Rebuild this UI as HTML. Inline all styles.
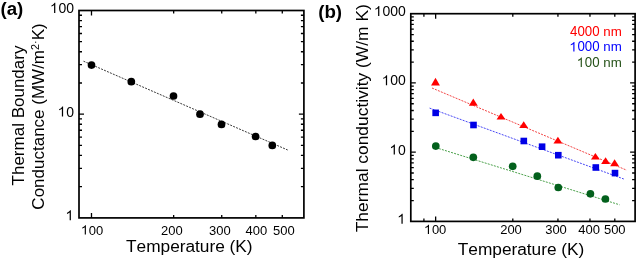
<!DOCTYPE html><html><head><meta charset="utf-8"><style>html,body{margin:0;padding:0;background:#fff;overflow:hidden}svg{display:block;will-change:transform}text{font-family:"Liberation Sans",sans-serif;font-kerning:none;font-variant-ligatures:none}</style></head><body>
<svg width="637" height="260" viewBox="0 0 637 260">
<path d="M91.49 217.90V212.90M91.49 10.50V15.50M173.66 217.90V214.90M173.66 10.50V13.50M221.73 217.90V214.90M221.73 10.50V13.50M255.83 217.90V214.90M255.83 10.50V13.50M282.29 217.90V214.90M282.29 10.50V13.50M79.00 186.68H82.00M303.90 186.68H300.90M79.00 168.42H82.00M303.90 168.42H300.90M79.00 155.47H82.00M303.90 155.47H300.90M79.00 145.42H82.00M303.90 145.42H300.90M79.00 137.21H82.00M303.90 137.21H300.90M79.00 130.26H82.00M303.90 130.26H300.90M79.00 124.25H82.00M303.90 124.25H300.90M79.00 118.95H82.00M303.90 118.95H300.90M79.00 114.20H84.00M303.90 114.20H298.90M79.00 82.98H82.00M303.90 82.98H300.90M79.00 64.72H82.00M303.90 64.72H300.90M79.00 51.77H82.00M303.90 51.77H300.90M79.00 41.72H82.00M303.90 41.72H300.90M79.00 33.51H82.00M303.90 33.51H300.90M79.00 26.56H82.00M303.90 26.56H300.90M79.00 20.55H82.00M303.90 20.55H300.90M79.00 15.25H82.00M303.90 15.25H300.90" stroke="#000" stroke-width="1.3" fill="none"/>
<rect x="79.0" y="10.5" width="224.90" height="207.40" stroke="#000" stroke-width="1.7" fill="none"/>
<line x1="83.5" y1="61.2" x2="287.7" y2="150" stroke="#3a3a3a" stroke-width="1" stroke-dasharray="2 1.2"/>
<circle cx="91.5" cy="65.05" r="3.85" fill="#000"/>
<circle cx="131.3" cy="81.7" r="3.85" fill="#000"/>
<circle cx="173.5" cy="96" r="3.85" fill="#000"/>
<circle cx="200" cy="114.2" r="3.85" fill="#000"/>
<circle cx="221.5" cy="124.4" r="3.85" fill="#000"/>
<circle cx="255.6" cy="136.5" r="3.85" fill="#000"/>
<circle cx="272.3" cy="145.4" r="3.85" fill="#000"/>
<path d="M683 0L503 0L503 1147Q433 1083 318 1020Q203 958 113 925L113 1100Q275 1172 395 1272Q515 1372 565 1472L683 1472Z" transform="translate(81.56 234.50) scale(0.00635 -0.00635)" fill="#000"/><text transform="translate(88.79 234.50) scale(1 1.035)" font-size="13" fill="#000">0</text><text transform="translate(96.01 234.50) scale(1 1.035)" font-size="13" fill="#000">0</text>
<text transform="translate(160.96 234.50) scale(1 1.035)" font-size="13" fill="#000">2</text><text transform="translate(168.19 234.50) scale(1 1.035)" font-size="13" fill="#000">0</text><text transform="translate(175.41 234.50) scale(1 1.035)" font-size="13" fill="#000">0</text>
<text transform="translate(208.96 234.50) scale(1 1.035)" font-size="13" fill="#000">3</text><text transform="translate(216.19 234.50) scale(1 1.035)" font-size="13" fill="#000">0</text><text transform="translate(223.41 234.50) scale(1 1.035)" font-size="13" fill="#000">0</text>
<text transform="translate(245.46 234.50) scale(1 1.035)" font-size="13" fill="#000">4</text><text transform="translate(252.69 234.50) scale(1 1.035)" font-size="13" fill="#000">0</text><text transform="translate(259.91 234.50) scale(1 1.035)" font-size="13" fill="#000">0</text>
<text transform="translate(272.96 234.50) scale(1 1.035)" font-size="13" fill="#000">5</text><text transform="translate(280.19 234.50) scale(1 1.035)" font-size="13" fill="#000">0</text><text transform="translate(287.41 234.50) scale(1 1.035)" font-size="13" fill="#000">0</text>
<path d="M683 0L503 0L503 1147Q433 1083 318 1020Q203 958 113 925L113 1100Q275 1172 395 1272Q515 1372 565 1472L683 1472Z" transform="translate(50.64 12.90) scale(0.00684 -0.00684)" fill="#000"/><text transform="translate(58.43 12.90) scale(1 1.035)" font-size="14" fill="#000">0</text><text transform="translate(66.21 12.90) scale(1 1.035)" font-size="14" fill="#000">0</text>
<path d="M683 0L503 0L503 1147Q433 1083 318 1020Q203 958 113 925L113 1100Q275 1172 395 1272Q515 1372 565 1472L683 1472Z" transform="translate(58.43 116.60) scale(0.00684 -0.00684)" fill="#000"/><text transform="translate(66.21 116.60) scale(1 1.035)" font-size="14" fill="#000">0</text>
<path d="M683 0L503 0L503 1147Q433 1083 318 1020Q203 958 113 925L113 1100Q275 1172 395 1272Q515 1372 565 1472L683 1472Z" transform="translate(66.21 220.30) scale(0.00684 -0.00684)" fill="#000"/>
<text x="189.3" y="252" font-size="17.3" text-anchor="middle" textLength="126.4" lengthAdjust="spacing">Temperature (K)</text>
<text transform="translate(23.7 115.5) rotate(-90)" font-size="17" text-anchor="middle">Thermal Boundary</text>
<text transform="translate(43.6 116.5) rotate(-90)" font-size="17" text-anchor="middle">Conductance (MW/m<tspan font-size="10.8" dy="-4.3">2</tspan><tspan font-size="10.8">·</tspan><tspan dy="4.3">K)</tspan></text>
<text x="0.5" y="14.8" font-size="18.7" font-weight="bold">(a)</text>
<path d="M423.91 221.40V218.40M423.91 13.70V16.70M435.64 221.40V216.40M435.64 13.70V18.70M512.80 221.40V218.40M512.80 13.70V16.70M557.94 221.40V218.40M557.94 13.70V16.70M589.96 221.40V218.40M589.96 13.70V16.70M614.80 221.40V218.40M614.80 13.70V16.70M410.80 200.56H413.80M635.10 200.56H632.10M410.80 188.37H413.80M635.10 188.37H632.10M410.80 179.72H413.80M635.10 179.72H632.10M410.80 173.01H413.80M635.10 173.01H632.10M410.80 167.53H413.80M635.10 167.53H632.10M410.80 162.89H413.80M635.10 162.89H632.10M410.80 158.88H413.80M635.10 158.88H632.10M410.80 155.33H413.80M635.10 155.33H632.10M410.80 152.17H415.80M635.10 152.17H630.10M410.80 131.33H413.80M635.10 131.33H632.10M410.80 119.13H413.80M635.10 119.13H632.10M410.80 110.48H413.80M635.10 110.48H632.10M410.80 103.77H413.80M635.10 103.77H632.10M410.80 98.29H413.80M635.10 98.29H632.10M410.80 93.66H413.80M635.10 93.66H632.10M410.80 89.64H413.80M635.10 89.64H632.10M410.80 86.10H413.80M635.10 86.10H632.10M410.80 82.93H415.80M635.10 82.93H630.10M410.80 62.09H413.80M635.10 62.09H632.10M410.80 49.90H413.80M635.10 49.90H632.10M410.80 41.25H413.80M635.10 41.25H632.10M410.80 34.54H413.80M635.10 34.54H632.10M410.80 29.06H413.80M635.10 29.06H632.10M410.80 24.42H413.80M635.10 24.42H632.10M410.80 20.41H413.80M635.10 20.41H632.10M410.80 16.87H413.80M635.10 16.87H632.10" stroke="#000" stroke-width="1.3" fill="none"/>
<rect x="410.8" y="13.7" width="224.30" height="207.70" stroke="#000" stroke-width="1.7" fill="none"/>
<line x1="432" y1="88" x2="626.7" y2="170.2" stroke="#f24444" stroke-width="1" stroke-dasharray="2 1.2"/>
<line x1="429.6" y1="108.1" x2="623.8" y2="179" stroke="#4646f4" stroke-width="1" stroke-dasharray="2 1.2"/>
<line x1="435.8" y1="147.6" x2="619.6" y2="204.8" stroke="#4aa04a" stroke-width="1" stroke-dasharray="2 1.2"/>
<path d="M435.5 77.8L439.95 85.4L431.05 85.4Z" fill="#ff0000"/>
<path d="M473.3 98.5L477.75 105.8L468.85 105.8Z" fill="#ff0000"/>
<path d="M501 113.1L505.45 119.5L496.55 119.5Z" fill="#ff0000"/>
<path d="M523.7 121.3L528.1500000000001 128.1L519.25 128.1Z" fill="#ff0000"/>
<path d="M557.9 136.8L562.35 143.5L553.4499999999999 143.5Z" fill="#ff0000"/>
<path d="M595.4 153.1L599.85 159.6L590.9499999999999 159.6Z" fill="#ff0000"/>
<path d="M605.6 157.3L610.0500000000001 164L601.15 164Z" fill="#ff0000"/>
<path d="M614.6 159.2L619.0500000000001 166.3L610.15 166.3Z" fill="#ff0000"/>
<rect x="432.35" y="109.55" width="6.6" height="6.6" fill="#0000e6"/>
<rect x="470.20" y="121.70" width="6.6" height="6.6" fill="#0000e6"/>
<rect x="520.50" y="137.70" width="6.6" height="6.6" fill="#0000e6"/>
<rect x="538.80" y="143.40" width="6.6" height="6.6" fill="#0000e6"/>
<rect x="555.00" y="151.90" width="6.6" height="6.6" fill="#0000e6"/>
<rect x="592.50" y="164.20" width="6.6" height="6.6" fill="#0000e6"/>
<rect x="611.70" y="169.80" width="6.6" height="6.6" fill="#0000e6"/>
<circle cx="435.8" cy="146.1" r="3.85" fill="#03601c"/>
<circle cx="473.3" cy="157.3" r="3.85" fill="#03601c"/>
<circle cx="512.7" cy="166.3" r="3.85" fill="#03601c"/>
<circle cx="537.3" cy="176.2" r="3.85" fill="#03601c"/>
<circle cx="558.3" cy="187.5" r="3.85" fill="#03601c"/>
<circle cx="590.4" cy="193.8" r="3.85" fill="#03601c"/>
<circle cx="605.4" cy="199" r="3.85" fill="#03601c"/>
<path d="M683 0L503 0L503 1147Q433 1083 318 1020Q203 958 113 925L113 1100Q275 1172 395 1272Q515 1372 565 1472L683 1472Z" transform="translate(424.66 234.10) scale(0.00635 -0.00635)" fill="#000"/><text transform="translate(431.89 234.10) scale(1 1.035)" font-size="13" fill="#000">0</text><text transform="translate(439.11 234.10) scale(1 1.035)" font-size="13" fill="#000">0</text>
<text transform="translate(500.16 234.10) scale(1 1.035)" font-size="13" fill="#000">2</text><text transform="translate(507.39 234.10) scale(1 1.035)" font-size="13" fill="#000">0</text><text transform="translate(514.61 234.10) scale(1 1.035)" font-size="13" fill="#000">0</text>
<text transform="translate(545.16 234.10) scale(1 1.035)" font-size="13" fill="#000">3</text><text transform="translate(552.39 234.10) scale(1 1.035)" font-size="13" fill="#000">0</text><text transform="translate(559.61 234.10) scale(1 1.035)" font-size="13" fill="#000">0</text>
<text transform="translate(578.26 234.10) scale(1 1.035)" font-size="13" fill="#000">4</text><text transform="translate(585.49 234.10) scale(1 1.035)" font-size="13" fill="#000">0</text><text transform="translate(592.71 234.10) scale(1 1.035)" font-size="13" fill="#000">0</text>
<text transform="translate(603.91 234.10) scale(1 1.035)" font-size="13" fill="#000">5</text><text transform="translate(611.14 234.10) scale(1 1.035)" font-size="13" fill="#000">0</text><text transform="translate(618.36 234.10) scale(1 1.035)" font-size="13" fill="#000">0</text>
<path d="M683 0L503 0L503 1147Q433 1083 318 1020Q203 958 113 925L113 1100Q275 1172 395 1272Q515 1372 565 1472L683 1472Z" transform="translate(374.66 16.10) scale(0.00684 -0.00684)" fill="#000"/><text transform="translate(382.44 16.10) scale(1 1.035)" font-size="14" fill="#000">0</text><text transform="translate(390.23 16.10) scale(1 1.035)" font-size="14" fill="#000">0</text><text transform="translate(398.01 16.10) scale(1 1.035)" font-size="14" fill="#000">0</text>
<path d="M683 0L503 0L503 1147Q433 1083 318 1020Q203 958 113 925L113 1100Q275 1172 395 1272Q515 1372 565 1472L683 1472Z" transform="translate(382.44 85.33) scale(0.00684 -0.00684)" fill="#000"/><text transform="translate(390.23 85.33) scale(1 1.035)" font-size="14" fill="#000">0</text><text transform="translate(398.01 85.33) scale(1 1.035)" font-size="14" fill="#000">0</text>
<path d="M683 0L503 0L503 1147Q433 1083 318 1020Q203 958 113 925L113 1100Q275 1172 395 1272Q515 1372 565 1472L683 1472Z" transform="translate(390.23 154.57) scale(0.00684 -0.00684)" fill="#000"/><text transform="translate(398.01 154.57) scale(1 1.035)" font-size="14" fill="#000">0</text>
<path d="M683 0L503 0L503 1147Q433 1083 318 1020Q203 958 113 925L113 1100Q275 1172 395 1272Q515 1372 565 1472L683 1472Z" transform="translate(398.01 223.80) scale(0.00684 -0.00684)" fill="#000"/>
<text x="521.05" y="254.7" font-size="17.3" text-anchor="middle" textLength="126.4" lengthAdjust="spacing">Temperature (K)</text>
<text transform="translate(367.7 118.25) rotate(-90)" font-size="17.4" text-anchor="middle">Thermal conductivity (W/m K)</text>
<text x="318.2" y="18.2" font-size="18.7" font-weight="bold">(b)</text>
<text transform="translate(570.04 35.55) scale(1 1.035)" font-size="13.3" fill="#ff0000">4</text><text transform="translate(577.44 35.55) scale(1 1.035)" font-size="13.3" fill="#ff0000">0</text><text transform="translate(584.84 35.55) scale(1 1.035)" font-size="13.3" fill="#ff0000">0</text><text transform="translate(592.23 35.55) scale(1 1.035)" font-size="13.3" fill="#ff0000">0</text><text x="603.32" y="35.55" font-size="13.3" fill="#ff0000">n</text><text x="610.72" y="35.55" font-size="13.3" fill="#ff0000">m</text>
<path d="M683 0L503 0L503 1147Q433 1083 318 1020Q203 958 113 925L113 1100Q275 1172 395 1272Q515 1372 565 1472L683 1472Z" transform="translate(570.04 51.45) scale(0.00649 -0.00649)" fill="#0000ff"/><text transform="translate(577.44 51.45) scale(1 1.035)" font-size="13.3" fill="#0000ff">0</text><text transform="translate(584.84 51.45) scale(1 1.035)" font-size="13.3" fill="#0000ff">0</text><text transform="translate(592.23 51.45) scale(1 1.035)" font-size="13.3" fill="#0000ff">0</text><text x="603.32" y="51.45" font-size="13.3" fill="#0000ff">n</text><text x="610.72" y="51.45" font-size="13.3" fill="#0000ff">m</text>
<path d="M683 0L503 0L503 1147Q433 1083 318 1020Q203 958 113 925L113 1100Q275 1172 395 1272Q515 1372 565 1472L683 1472Z" transform="translate(577.44 67.00) scale(0.00649 -0.00649)" fill="#265219"/><text transform="translate(584.84 67.00) scale(1 1.035)" font-size="13.3" fill="#265219">0</text><text transform="translate(592.23 67.00) scale(1 1.035)" font-size="13.3" fill="#265219">0</text><text x="603.32" y="67.00" font-size="13.3" fill="#265219">n</text><text x="610.72" y="67.00" font-size="13.3" fill="#265219">m</text>
</svg></body></html>
